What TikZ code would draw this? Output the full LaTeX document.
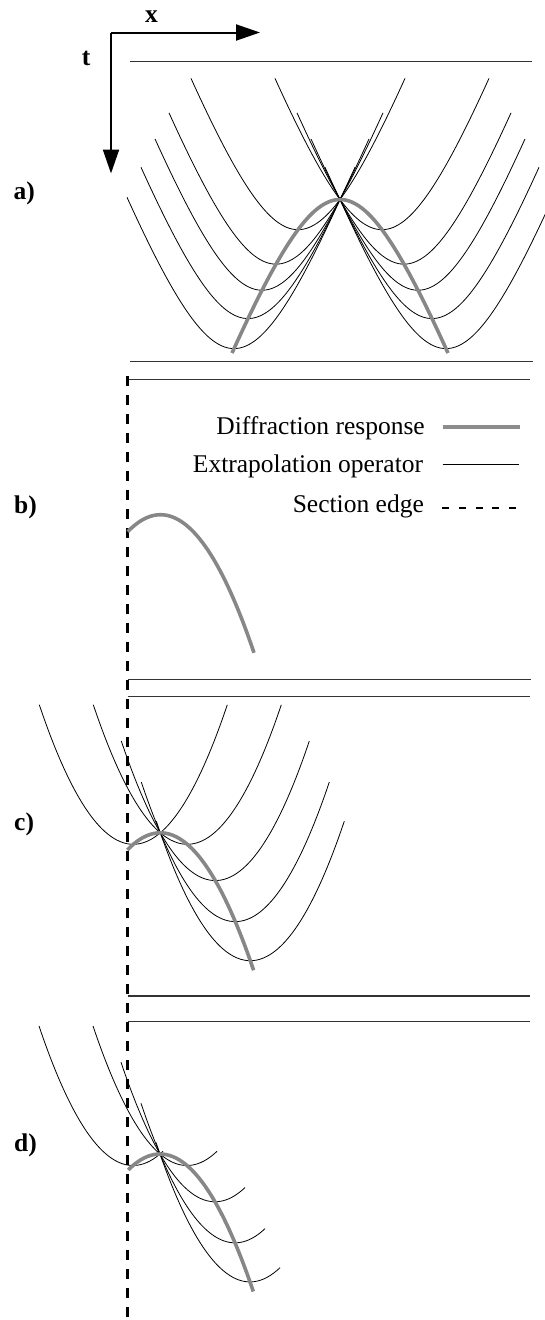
\documentclass[tikz,border=0pt]{standalone}
\usepackage{fontspec}
\setmainfont{Liberation Serif}
\usetikzlibrary{arrows.meta}
\pgfmathdeclarefunction{fa}{1}{\pgfmathparse{10*sqrt(361+7.0225*(#1/10)*(#1/10))-190}}
\pgfmathdeclarefunction{gb}{1}{\pgfmathparse{0.0158*(#1)*(#1)}}
\begin{document}
\begin{tikzpicture}[x=1pt,y=-1pt,
  opline/.style={line width=0.8pt, black},
  diffline/.style={line width=3.6pt, black!47},
  secline/.style={line width=1.2pt, black!80},
  edgeline/.style={line width=3pt, dash pattern=on 10pt off 9pt},
  legdash/.style={line width=2pt, dash pattern=on 7pt off 9.75pt},
  axisline/.style={line width=2pt, -{Triangle[length=24pt,width=16pt]}},
  lbl/.style={font=\fontsize{25.5}{30}\selectfont\bfseries, inner sep=0pt, anchor=base west},
  legtxt/.style={font=\fontsize{25.5}{30}\selectfont, inner sep=0pt, anchor=base east},
]
\useasboundingbox (0,0) rectangle (545,1320);
\clip (0,0) rectangle (545,1320);

% axes
\coordinate (O) at (111,32.5);
\coordinate (Xtip) at (260,32.5);
\coordinate (Ttip) at (111,173.5);
\draw[axisline] (O) -- (Xtip);
\draw[axisline] (O) -- (Ttip);
\node[lbl] (lx) at (145,22.7) {x};
\node[lbl] (lt) at (81.7,65) {t};

% panel labels
\node[lbl] (la) at (13.5,199) {a)};
\node[lbl] (lb) at (14,513.5) {b)};
\node[lbl] (lc) at (14,830) {c)};
\node[lbl] (ld) at (14,1151.7) {d)};

% section lines
\draw[secline] (130,61.7) -- (532,61.7);
\draw[secline] (130,361.7) -- (533,361.7);
\draw[secline] (127.5,379.3) -- (530,379.3);
\draw[secline] (127.5,679.3) -- (531,679.3);
\draw[secline] (127.5,696.7) -- (530,696.7);
\draw[secline] (127.5,996) -- (530,996);
\draw[secline] (127.5,1021.7) -- (530,1021.7);

% section edge
\draw[edgeline] (127.3,376) -- (127.3,1322);

% panel a
\foreach \ub in {-106,-92,-78,-64,-42,42,64,78,92,106} {
  \draw[opline] plot[domain=-107:107,samples=60,smooth] ({340+\ub+\x},{199.5+fa(\ub)-fa(\x)});
}
\draw[diffline] plot[domain=-108:108,samples=60,smooth] ({340+\x},{199.5+fa(\x)});

% panel b
\draw[diffline] plot[domain=-32.8:93.5,samples=40,smooth] ({160.5+\x},{514.7+gb(\x)});

% panel c
\foreach \ub in {-27,27,55,75,90} {
  \draw[opline] plot[domain=-94:94,samples=50,smooth] ({160.3+\ub+\x},{832.8+gb(\ub)-gb(\x)});
}
\draw[diffline] plot[domain=-33:93.3,samples=40,smooth] ({160.3+\x},{832.8+gb(\x)});

% panel d
\foreach \ub in {-27,27,55,75,90} {
  \draw[opline] plot[domain=-94:30,samples=40,smooth] ({160+\ub+\x},{1154+gb(\ub)-gb(\x)});
}
\draw[diffline] plot[domain=-31.7:93.3,samples=40,smooth] ({160+\x},{1154+gb(\x)});

% legend
\node[legtxt] (t1) at (425,434) {Diffraction response};
\node[legtxt] (t2) at (423.3,472.3) {Extrapolation operator};
\node[legtxt] (t3) at (424,512.3) {Section edge};
\coordinate (g1a) at (442.7,427.3); \coordinate (g1b) at (520,427.3);
\coordinate (g2a) at (442.7,464);   \coordinate (g2b) at (519,464);
\coordinate (g3a) at (442,507.7);   \coordinate (g3b) at (517,507.7);
\draw[line width=4pt, black!45] (g1a) -- (g1b);
\draw[line width=1pt] (g2a) -- (g2b);
\draw[legdash] (g3a) -- (g3b);
\end{tikzpicture}
\end{document}
